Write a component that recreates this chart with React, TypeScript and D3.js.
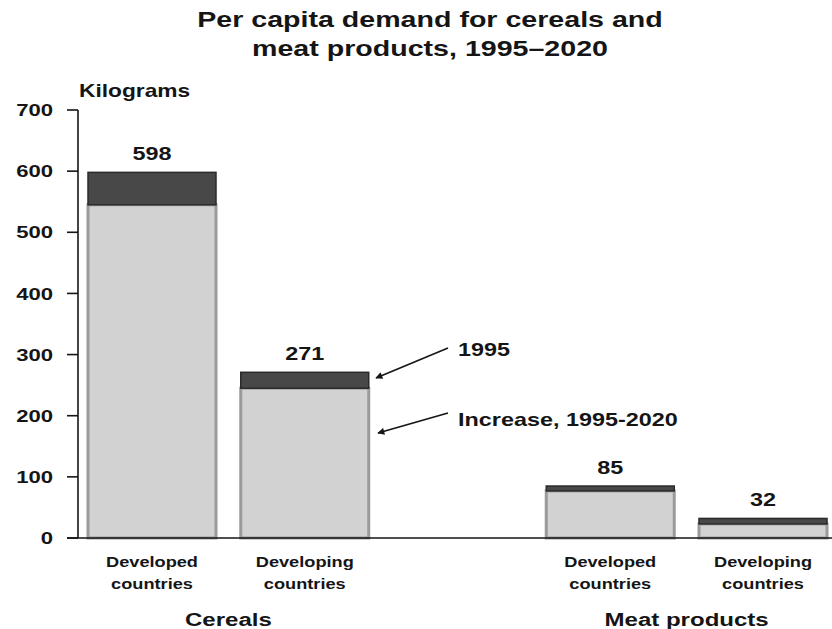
import React from "react";
import * as d3 from "d3";

const barKeys = ["cer-dev", "cer-dvg", "meat-dev", "meat-dvg"];
const barLabels = [["Developed", "countries"], ["Developing", "countries"], ["Developed", "countries"], ["Developing", "countries"]];
const groupNames = ["Cereals", "Meat products"];
const totals = [598, 271, 85, 32];
const increaseValues = [545, 245, 77, 23];
const value1995 = [53, 26, 8, 9];
const yTicks = [0, 100, 200, 300, 400, 500, 600, 700];

const W = 832, H = 629;
const SX = 1.3;
const FONT = "'Liberation Sans', Arial, Helvetica, sans-serif";
const INK = "#151515";

const slots = ["cer-dev", "cer-dvg", "gap", "meat-dev", "meat-dvg"];

function T(props: { x: number; y: number; anchor?: string; size: number; weight?: string | number; children: React.ReactNode; dy?: string }) {
  const { x, y, anchor = "middle", size, weight = "bold", children, dy } = props;
  return (
    <text
      transform={`translate(${x},${y}) scale(${SX},1)`}
      textAnchor={anchor as any}
      fontSize={size}
      fontWeight={weight as any}
      fontFamily={FONT}
      fill={INK}
      dy={dy}
    >
      {children}
    </text>
  );
}

export default function App() {
  const y = d3.scaleLinear().domain([0, 700]).range([538, 110]);
  const x = d3.scaleBand<string>().domain(slots).range([88, 827]).paddingInner(0.162).paddingOuter(0);
  const bw = x.bandwidth();
  const axisX = 78;

  return (
    <svg width={W} height={H} style={{ position: "absolute", left: 0, top: 0, background: "#fff" }}>
      <defs>
        <marker id="ah" viewBox="0 0 10 10" refX="9" refY="5" markerWidth="9" markerHeight="7" orient="auto" markerUnits="userSpaceOnUse">
          <path d="M0,0 L10,5 L0,10 z" fill={INK} />
        </marker>
      </defs>
      {/* Title */}
      <T x={430} y={27} size={22}>Per capita demand for cereals and</T>
      <T x={430} y={56} size={22}>meat products, 1995–2020</T>
      <T x={79} y={97} size={17.5} anchor="start">Kilograms</T>

      {/* Bars */}
      {barKeys.map((k, i) => {
        const x0 = x(k)!;
        const yTop = y(increaseValues[i] + value1995[i]);
        const yMid = y(increaseValues[i]);
        const cx = x0 + bw / 2;
        return (
          <g key={k}>
            <rect x={x0} y={yMid} width={bw} height={y(0) - yMid} fill="#d2d2d2" stroke="#9a9a9a" strokeWidth={3} />
            <rect x={x0} y={yTop} width={bw} height={yMid - yTop} fill="#484848" stroke="#2a2a2a" strokeWidth={1.5} />
            <T x={cx} y={y(totals[i]) - 12} size={18}>{totals[i]}</T>
            <T x={cx} y={567} size={14}>{barLabels[i][0]}</T>
            <T x={cx} y={589} size={14}>{barLabels[i][1]}</T>
          </g>
        );
      })}

      {/* Group labels */}
      <T x={(x("cer-dev")! + x("cer-dvg")! + bw) / 2} y={626} size={18.5}>{groupNames[0]}</T>
      <T x={(x("meat-dev")! + x("meat-dvg")! + bw) / 2} y={626} size={18.5}>{groupNames[1]}</T>

      {/* Axis */}
      <line x1={axisX} x2={axisX} y1={y(700)} y2={y(0)} stroke={INK} strokeWidth={1.6} />
      <line x1={67} x2={W} y1={y(0)} y2={y(0)} stroke={INK} strokeWidth={1.6} />
      {yTicks.map((t) => (
        <g key={t}>
          <line x1={67} x2={axisX} y1={y(t)} y2={y(t)} stroke={INK} strokeWidth={1.6} />
          <T x={53} y={y(t)} size={17} anchor="end" dy="0.36em">{t}</T>
        </g>
      ))}

      {/* Annotations */}
      <line x1={448} y1={348} x2={376} y2={378} stroke={INK} strokeWidth={1.6} markerEnd="url(#ah)" />
      <line x1={448} y1={413} x2={378} y2={433} stroke={INK} strokeWidth={1.6} markerEnd="url(#ah)" />
      <T x={458} y={356} size={18} anchor="start">1995</T>
      <T x={458} y={426} size={18} anchor="start">Increase, 1995-2020</T>
    </svg>
  );
}
